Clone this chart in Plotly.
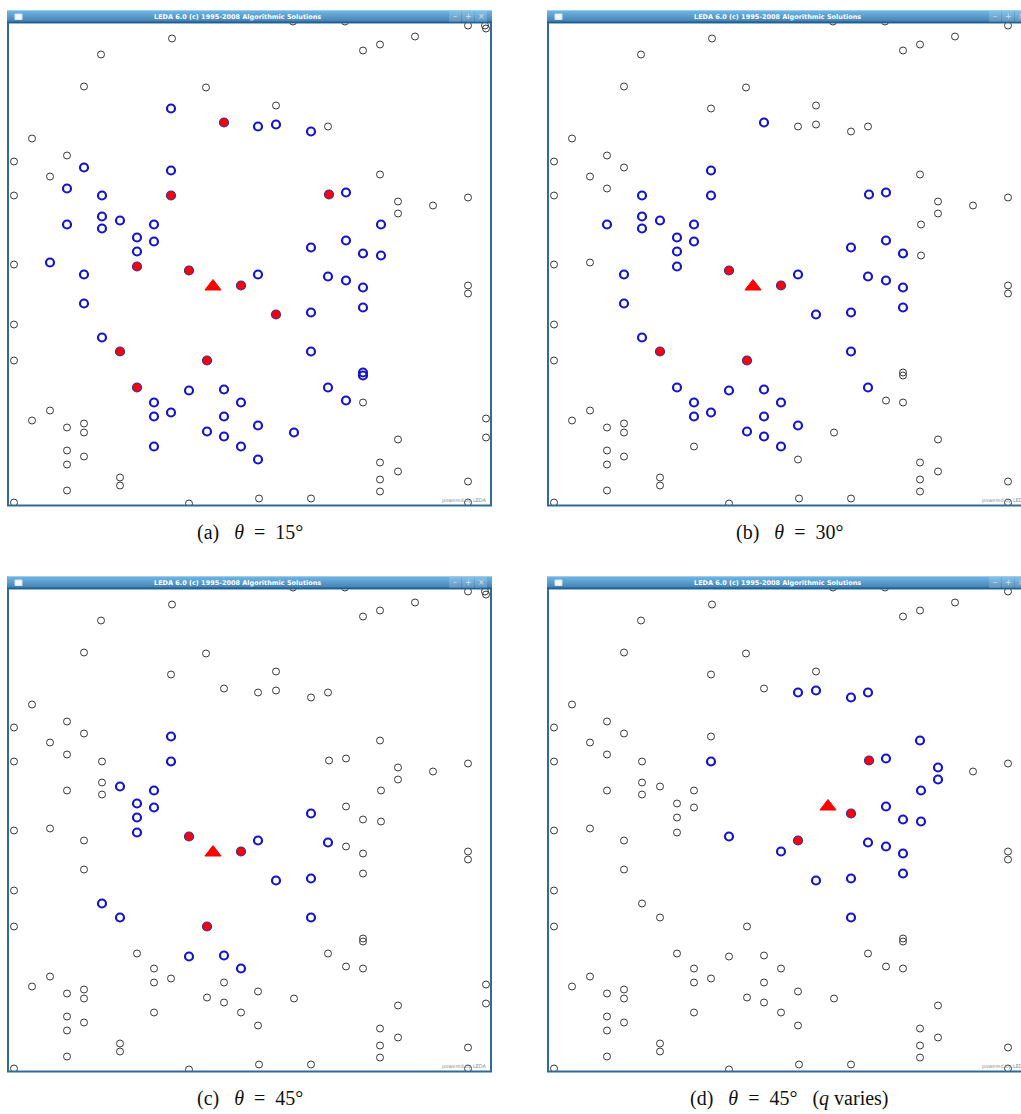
import plotly.graph_objects as go

W, H = 1021, 1114

# Point set shared by all four windows (canvas coordinates, y grows downwards)
PX = [164, 93, 76, 198, 285, 337, 460, 477, 478, 407, 372, 355, 268, 24, 59, 6, 42, 6, 6, 6, 6,
      163, 216, 250, 268, 303, 320, 76, 163, 59, 163, 94, 321, 338, 372, 390, 425, 460, 390,
      94, 112, 59, 94, 146, 373, 129, 146, 338, 303, 129, 355, 373, 42, 129, 181, 76, 250,
      233, 320, 338, 355, 460, 460, 76, 268, 303, 355, 94, 112, 199, 303, 355, 355, 129, 181,
      216, 320, 146, 233, 338, 355, 163, 146, 216, 250, 199, 286, 216, 146, 233, 250,
      24, 42, 59, 76, 76, 59, 76, 59, 112, 112, 59, 6, 181, 251, 303, 478, 478, 390, 372,
      390, 372, 460, 372, 460]
PY = [16, 32, 64, 65, -1, -1, 3, 3, 6, 14, 22, 28, 83, 116, 133, 139, 154, 173, 242, 302, 338,
      86, 100, 104, 102, 109, 104, 145, 148, 166, 173, 173, 172, 170, 152, 179, 183, 175, 191,
      194, 198, 202, 206, 202, 202, 215, 219, 218, 225, 229, 231, 233, 240, 244, 248, 252, 252,
      263, 254, 258, 265, 263, 271, 281, 292, 290, 285, 315, 329, 338, 329, 350, 353, 365, 368,
      367, 365, 380, 380, 378, 380, 390, 394, 394, 403, 409, 410, 414, 424, 424, 437,
      398, 388, 405, 401, 410, 428, 434, 442, 455, 463, 468, 480, 481, 476, 476, 396, 415, 417, 440,
      449, 457, 459, 469, 480]
# Per point: state in windows a, b, c, d  (k = plain, b = candidate, r = reported)
STATE = ["kkkk"] * 21 + [
    "bkkk", "rbkk", "bkkb", "bkkb", "bkkb", "kkkb", "bkkk", "bbbk", "bkkk", "rbbb", "bbkk",
    "rbkr", "bbkb", "kkkb", "kkkb", "kkkk", "kkkk", "kkkb",
    "bbkk", "bbbk", "bbkk", "bbkk", "bbbk", "bkkb", "bbbk", "bbbk", "bbkb", "bbbr", "bbbk",
    "bbkb", "bkkb", "bkkk", "rbbk", "rrrb", "bbkk", "bbbr",
    "rrrb", "bbbb", "bbkb", "bbkb", "kkkk", "kkkk", "bbkk", "rbbb", "bbbb", "bbkb", "bbbk",
    "rrbk", "rrrk", "bbbb", "bkkk", "bkkk", "rbkk", "bbbk",
    "bbbk", "bbkk", "bbkk", "bbbk", "bkkk", "kkkk", "bbkk", "bbkk", "bbkk", "bbkk", "bbkk",
    "bkkk", "bbkk", "bkkk", "bbkk", "bkkk",
] + ["kkkk"] * 24

# Query point per window
QX = [205, 205, 205, 280]
QY = [264, 264, 264, 218]

LETTERS = ["a", "b", "c", "d"]
THETA = ["15°", "30°", "45°", "45°"]
EXTRA = ["", "", "", "(<i>q</i> varies)"]
OFFSETS = [(0, 0), (540, 0), (0, 566), (540, 566)]

TITLE = "LEDA 6.0 (c) 1995-2008 Algorithmic Solutions"


def fx(x):
    return x / W


def fy(y):
    return 1 - y / H


def hex_mix(c1, c2, t):
    a = [int(c1[i:i + 2], 16) for i in (1, 3, 5)]
    b = [int(c2[i:i + 2], 16) for i in (1, 3, 5)]
    return "#" + "".join(f"{round(a[k] + (b[k] - a[k]) * t):02x}" for k in range(3))


fig = go.Figure()
shapes = []
annotations = []

for p in range(4):
    dx, dy = OFFSETS[p]
    left, right = 8 + dx, 491 + dx
    top, bar_bottom, bottom = 10.5 + dy, 22.5 + dy, 505.5 + dy
    suffix = "" if p == 0 else str(p + 1)
    xa, ya = "x" + suffix, "y" + suffix

    xr = min(right, W) - left
    fig.update_layout(**{
        "xaxis" + suffix: dict(domain=[fx(left), min(1.0, fx(right))], range=[0, xr],
                               visible=False, fixedrange=True, anchor=ya),
        "yaxis" + suffix: dict(domain=[fy(bottom), fy(bar_bottom)], range=[483, 0],
                               visible=False, fixedrange=True, anchor=xa),
    })

    groups = {"k": ([], []), "b": ([], []), "r": ([], [])}
    for x, y, s in zip(PX, PY, STATE):
        groups[s[p]][0].append(x)
        groups[s[p]][1].append(y)

    fig.add_trace(go.Scatter(x=groups["k"][0], y=groups["k"][1], mode="markers", xaxis=xa, yaxis=ya,
                             marker=dict(symbol="circle-open", size=7, color="#3a3a3a",
                                         line=dict(width=1)),
                             showlegend=False, hoverinfo="skip"))
    fig.add_trace(go.Scatter(x=groups["b"][0], y=groups["b"][1], mode="markers", xaxis=xa, yaxis=ya,
                             marker=dict(symbol="circle-open", size=8, color="#1515c8",
                                         line=dict(width=2.2)),
                             showlegend=False, hoverinfo="skip"))
    fig.add_trace(go.Scatter(x=groups["r"][0], y=groups["r"][1], mode="markers", xaxis=xa, yaxis=ya,
                             marker=dict(symbol="circle", size=9, color="#ff0000",
                                         line=dict(width=1.2, color="#3030b0")),
                             showlegend=False, hoverinfo="skip"))
    fig.add_trace(go.Scatter(x=[QX[p]], y=[QY[p]], mode="markers", xaxis=xa, yaxis=ya,
                             marker=dict(symbol="triangle-up", size=14, color="#ff0000",
                                         line=dict(width=1, color="#ff0000")),
                             showlegend=False, hoverinfo="skip"))

    # window frame
    shapes.append(dict(type="rect", xref="paper", yref="paper",
                       x0=fx(left), x1=fx(right), y0=fy(bottom), y1=fy(bar_bottom),
                       line=dict(color="#2f6c98", width=2), fillcolor="rgba(0,0,0,0)"))
    # title bar with vertical gradient
    n = 12
    for i in range(n):
        y0 = top + (bar_bottom - top) * i / n
        y1 = top + (bar_bottom - top) * (i + 1) / n
        shapes.append(dict(type="rect", xref="paper", yref="paper",
                           x0=fx(left - 1), x1=fx(right + 1), y0=fy(y1), y1=fy(y0),
                           line=dict(width=0), fillcolor=hex_mix("#3f9edb", "#0a5896", i / (n - 1)),
                           layer="above"))
    # window icon
    shapes.append(dict(type="rect", xref="paper", yref="paper",
                       x0=fx(left + 7), x1=fx(left + 14), y0=fy(dy + 19.5), y1=fy(dy + 14),
                       line=dict(width=1, color="#d8e4ee"), fillcolor="#f4f6f8", layer="above"))
    # window buttons
    for k, glyph in enumerate(["–", "+", "×"]):
        bx0 = 449 + dx + 13 * k
        shapes.append(dict(type="rect", xref="paper", yref="paper",
                           x0=fx(bx0), x1=fx(bx0 + 12), y0=fy(dy + 22), y1=fy(dy + 11),
                           line=dict(width=0), fillcolor="rgba(255,255,255,0.16)", layer="above"))
        annotations.append(dict(text=glyph, xref="paper", yref="paper", x=fx(bx0 + 6), y=fy(dy + 16.5),
                                showarrow=False, xanchor="center", yanchor="middle",
                                font=dict(family="DejaVu Sans", size=8, color="#cfe3f2")))
    annotations.append(dict(text="<b>" + TITLE + "</b>", xref="paper", yref="paper",
                            x=fx(237 + dx), y=fy(dy + 16.5), showarrow=False,
                            xanchor="center", yanchor="middle",
                            font=dict(family="DejaVu Sans", size=6.5, color="white")))
    annotations.append(dict(text="powered by LEDA", xref="paper", yref="paper",
                            x=fx(489 + dx), y=fy(dy + 500.5), showarrow=False,
                            xanchor="right", yanchor="middle",
                            font=dict(family="DejaVu Sans", size=5, color="#8a8a8a")))
    # caption
    sp = "&nbsp;"
    cap = f"({LETTERS[p]}){sp * 3}<i>θ</i>{sp * 2}={sp * 2}{THETA[p]}"
    if EXTRA[p]:
        cap += sp * 3 + EXTRA[p]
    annotations.append(dict(text=cap, xref="paper", yref="paper",
                            x=fx((left + right) / 2), y=fy(dy + 532), showarrow=False,
                            xanchor="center", yanchor="middle",
                            font=dict(family="Liberation Serif", size=20, color="#111111")))

fig.update_layout(width=W, height=H, margin=dict(l=0, r=0, t=0, b=0),
                  paper_bgcolor="white", plot_bgcolor="white",
                  shapes=shapes, annotations=annotations, showlegend=False)

fig.write_html("out.html")
